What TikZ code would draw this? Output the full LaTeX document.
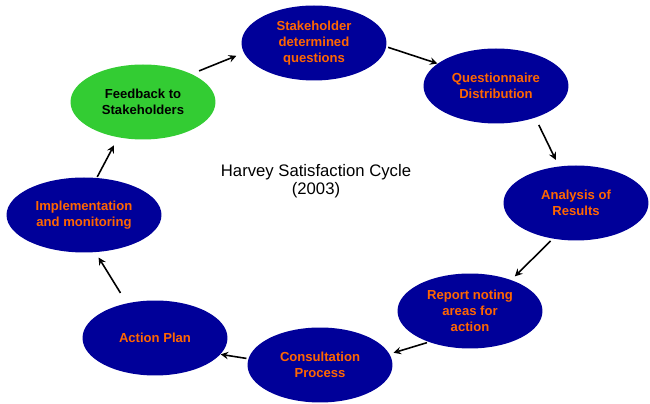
\documentclass[tikz,border=0pt]{standalone}
\usepackage{fontspec}
\setmainfont{Liberation Sans}
\usepackage{tikz}
\usetikzlibrary{positioning,shapes.geometric,arrows}
\definecolor{navy}    {HTML}{000099}
\definecolor{mandarin}{HTML}{FF6600}
\definecolor{leaf}    {HTML}{33CC33}
\definecolor{ink}     {HTML}{000000}
\tikzset{
  >=stealth,
  % --- nodes
  stage/.style = {ellipse, fill=navy, text=mandarin, align=center, inner sep=0pt,
                  minimum width=2.9cm, minimum height=1.5cm,
                  font=\fontsize{7.45}{9.1}\selectfont\bfseries},
  reply/.style = {stage, fill=leaf, text=ink},
  ttl/.style   = {align=center, font=\fontsize{9.5}{10.4}\selectfont},
  % --- edges
  e/.style     = {-stealth, line width=0.9pt, draw=ink},
}
\begin{document}
\begin{tikzpicture}[x=0.02cm,y=-0.02cm]
  \useasboundingbox (0,0) rectangle (650,404);
  \node[stage] (sq) at (314,43)  {Stakeholder\\determined\\questions};
  \node[stage] (qd) at (496,86)  {Questionnaire\\Distribution};
  \node[stage] (an) at (576,203) {Analysis of\\Results};
  \node[stage] (rp) at (470,311) {Report noting\\areas for\\action};
  \node[stage] (cp) at (320,365) {Consultation\\Process};
  \node[stage] (ap) at (155,338) {Action Plan};
  \node[stage, minimum width=3.1cm] (im) at (84,215) {Implementation\\and monitoring};
  \node[reply] (fb) at (143,102) {Feedback to\\Stakeholders};
  \node[ttl] (t) at (316,181) {Harvey Satisfaction Cycle\\(2003)};
  % round the cycle
  \draw[e, shorten <=4.5pt, shorten >=4.5pt] (fb.30)  -- (sq.188);
  \draw[e, shorten <=1pt]                    (sq.-3)  -- (qd.159);
  \draw[e, shorten <=4.5pt, shorten >=4pt]   (qd.-39) -- (an.115);
  \draw[e, shorten <=1.7pt, shorten >=2.8pt] (an.237) -- (rp.37);
  \draw[e, shorten <=1pt, shorten >=2.3pt]   (rp.217) -- (cp.9);
  \draw[e, shorten <=1pt]                    (cp.175) -- (ap.-14);
  \draw[e, shorten <=6.8pt, shorten >=3.4pt] (ap.129) -- (im.-73);
  \draw[e, shorten <=0.5pt, shorten >=5pt]   (im.71)  -- (fb.235);
\end{tikzpicture}
\end{document}
